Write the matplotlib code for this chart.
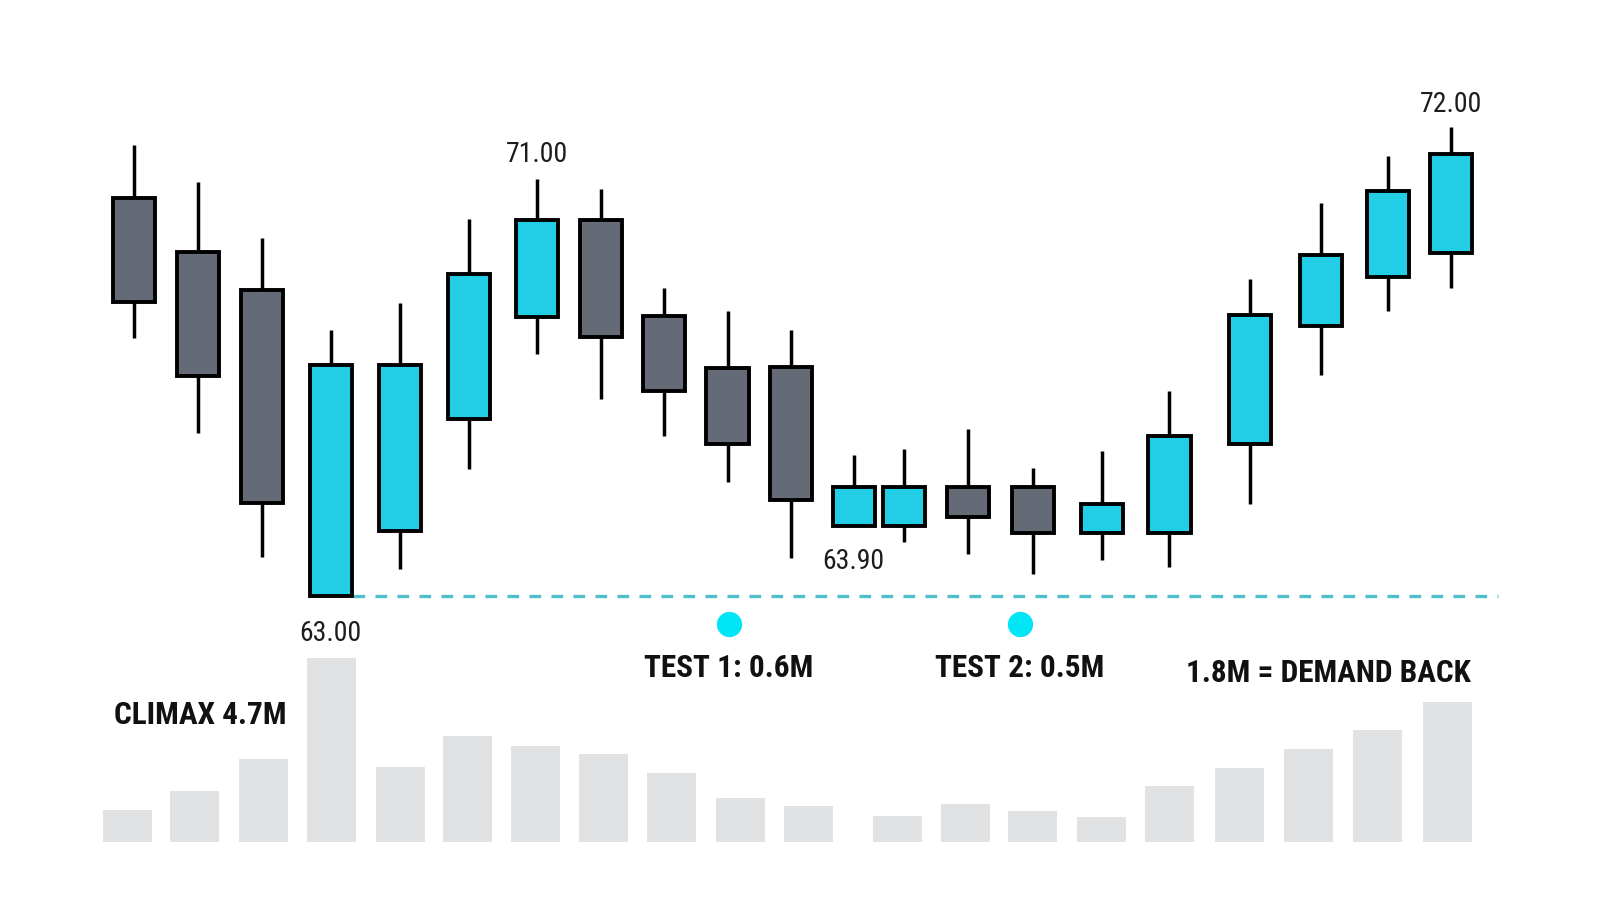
import matplotlib
matplotlib.use("Agg")
import matplotlib.pyplot as plt
from matplotlib import font_manager
from matplotlib.font_manager import FontProperties

# ---------------- data ----------------
candle_pos = [0.0, 0.977, 1.955, 2.995, 4.05, 5.105, 6.13, 7.106, 8.07, 9.03, 9.99,
              10.95, 11.71, 12.69, 13.68, 14.72, 15.75, 16.97, 18.06, 19.07, 20.03]
opens  = [70.63, 69.59, 68.87, 63.00, 64.25, 66.39, 68.34, 70.20, 68.36, 67.36, 67.38,
          64.33, 64.33, 65.09, 65.09, 64.21, 64.21, 65.92, 68.17, 69.11, 69.58]
closes = [68.64, 67.21, 64.78, 67.42, 67.42, 69.18, 70.20, 67.97, 66.93, 65.92, 64.84,
          65.09, 65.09, 64.51, 64.21, 64.76, 66.07, 68.38, 69.54, 70.77, 71.47]
highs  = [71.65, 70.93, 69.87, 68.09, 68.62, 70.22, 71.00, 70.81, 68.91, 68.46, 68.09,
          65.70, 65.82, 66.19, 65.45, 65.78, 66.93, 69.07, 70.53, 71.43, 72.00]
lows   = [67.95, 66.13, 63.74, 63.00, 63.51, 65.43, 67.64, 66.78, 66.07, 65.19, 63.72,
          64.33, 64.04, 63.80, 63.41, 63.68, 63.55, 64.76, 67.23, 68.46, 68.91]

volume_pos = [-0.09, 0.93, 1.97, 3.01, 4.05, 5.07, 6.11, 7.14, 8.18, 9.22, 10.26,
              11.61, 12.65, 13.67, 14.71, 15.75, 16.82, 17.86, 18.91, 19.98]
volumes = [0.82, 1.29, 2.11, 4.70, 1.92, 2.70, 2.44, 2.25, 1.75, 1.11, 0.92,
           0.65, 0.97, 0.79, 0.64, 1.42, 1.89, 2.38, 2.86, 3.58]

support_level = 63.00
support_start = 3.33
support_end = 20.75

price_labels = ["63.00", "71.00", "63.90", "72.00"]
price_label_x = [2.995, 6.13, 10.95, 20.03]
price_label_y = [62.27, 71.46, 63.66, 72.43]

test_x = [9.05, 13.47]
test_dot_y = 62.45
test_labels = ["TEST 1: 0.6M", "TEST 2: 0.5M"]
test_label_y = 61.62

climax_label = "CLIMAX 4.7M"
climax_x, climax_y = 1.01, 60.71
demand_label = "1.8M = DEMAND BACK"
demand_x, demand_y = 18.17, 61.52


# ---------------- fonts ----------------
def pick(families, weight):
    for fam in families:
        for f in font_manager.fontManager.ttflist:
            if f.name == fam and f.weight == weight and f.style == "normal":
                return FontProperties(fname=f.fname)
    return None


fp_bold = pick(["Roboto Condensed", "PT Sans Narrow"], 700)
fp_reg = pick(["Roboto Condensed", "PT Sans Narrow"], 400)
if fp_bold is None:
    fp_bold = FontProperties(family="Roboto", weight="bold")
if fp_reg is None:
    fp_reg = FontProperties(family="Roboto")

BULL = "#22cde6"
BEAR = "#646b77"
VOL = "#e1e2e4"
LINE = "#4fbfcc"
DOT = "#00e6f6"

W, H = 1568, 896   # reference drawing units
fig = plt.figure(figsize=(16, 9.14), dpi=100)
fig.patch.set_facecolor("white")

xl = (-131 / 64.45, (W - 131) / 64.45)

axv = fig.add_axes([0, 0, 1, 1])
axv.set_xlim(*xl)
axv.set_ylim(-(H - 825) / 38.3, 825 / 38.3)
axv.axis("off")
axv.bar(volume_pos, volumes, width=0.745, color=VOL, zorder=1)

ax = fig.add_axes([0, 0, 1, 1])
ax.patch.set_alpha(0)
ax.set_xlim(*xl)
ax.set_ylim(63 - (H - 584) / 51.1, 63 + 584 / 51.1)
ax.axis("off")

cols = [BULL if c >= o else BEAR for o, c in zip(opens, closes)]
ax.vlines(candle_pos, lows, highs, color="black", linewidth=2.5, zorder=2)
bottoms = [min(o, c) for o, c in zip(opens, closes)]
heights = [abs(c - o) for o, c in zip(opens, closes)]
ax.bar(candle_pos, heights, bottom=bottoms, width=0.64, color=cols,
       edgecolor="black", linewidth=2.8, zorder=3)

ax.hlines(support_level, support_start, support_end, colors=LINE, linewidth=2.4,
          linestyles=(0, (3.5, 3.1)), zorder=1)

ax.scatter(test_x, [test_dot_y] * len(test_x), s=330, color=DOT, zorder=4, linewidths=0)

for t, x, y in zip(price_labels, price_label_x, price_label_y):
    ax.text(x, y, t, ha="center", va="center", fontproperties=fp_reg, fontsize=20,
            color="#1c1c1c")

bold_kw = dict(ha="center", va="center", fontproperties=fp_bold, fontsize=22.5, color="#111111")
for t, x in zip(test_labels, test_x):
    ax.text(x, test_label_y, t, **bold_kw)
ax.text(demand_x, demand_y, demand_label, **bold_kw)
ax.text(climax_x, climax_y, climax_label, **bold_kw)

fig.savefig("out.png", dpi=100, facecolor="white")
